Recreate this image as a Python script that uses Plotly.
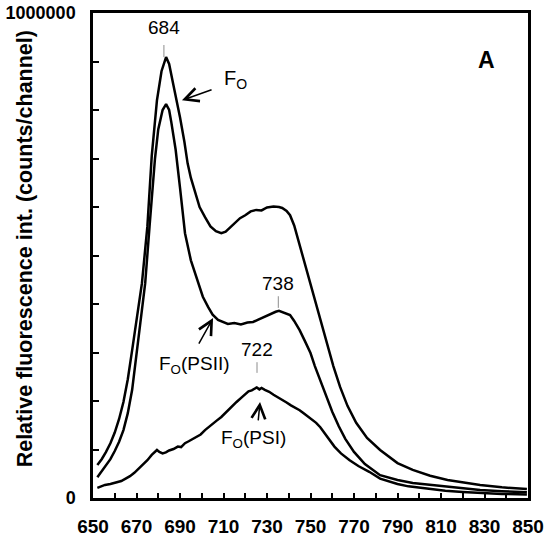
import plotly.graph_objects as go

# ---- data ----
fo_nm = [652, 654, 656, 658, 660, 662, 664, 666, 668, 670, 672.5, 675, 677, 679.4, 681.5, 683.6,
         685, 686.8, 688.5, 690, 692, 693.5, 695, 697, 699, 701.5, 704, 706.5, 709, 711, 713,
         715.5, 717.6, 720, 722.5, 725, 727.5, 730, 733, 735.5, 737, 739, 740.6, 742.5, 744, 746,
         748, 750.5, 753, 755.5, 757.6, 760.5, 763.6, 767, 771, 776, 782, 790, 797, 805, 813, 820,
         828, 838, 849.5]
fo_val = [68000, 80000, 95000, 113000, 135000, 163000, 198000, 245000, 305000, 370000, 443000,
          560000, 705000, 820000, 880000, 909000, 895000, 855000, 820000, 785000, 735000, 690000,
          660000, 629000, 600000, 579000, 560000, 550000, 546000, 549000, 557000, 568000, 577000,
          583000, 591000, 594000, 593000, 599000, 601000, 600000, 598000, 592000, 583000, 562000,
          538000, 508000, 476000, 435000, 394000, 355000, 320000, 272000, 229000, 190000, 155000,
          124000, 99000, 72000, 58000, 46000, 37000, 32000, 27000, 22000, 18500]

psii_nm = [652, 654, 656, 658, 660, 662, 664, 666, 668, 670, 672, 674, 676, 678.5, 680, 682, 683.6,
           685, 686, 688, 690, 692.3, 695, 698.3, 700.5, 702.9, 705, 707.5, 710, 712, 715, 718,
           721, 723.6, 726, 728, 730, 732, 734, 735.5, 737, 738.5, 740.6, 742.5, 745, 747.5, 750,
           752, 754.4, 757, 760, 763, 766, 770, 775, 782, 790, 797, 805, 815, 828, 838, 849.5]
psii_val = [43000, 55000, 66000, 80000, 97000, 116000, 140000, 175000, 223000, 300000, 370000,
            443000, 560000, 700000, 760000, 800000, 812000, 800000, 775000, 718000, 640000, 546000,
            490000, 443000, 415000, 394000, 378000, 367000, 362000, 359000, 361000, 358000, 362000,
            363000, 368000, 372000, 377000, 381000, 384000, 386000, 383000, 380000, 377000, 365000,
            346000, 323000, 299000, 272000, 243000, 210000, 178000, 148000, 122000, 95000, 70000,
            47000, 37000, 31000, 27000, 22000, 16500, 14000, 12000]

psi_nm = [652, 654, 655.5, 658, 660, 661.5, 663, 665, 667, 669, 671, 673, 675, 677, 678.5, 679.4,
          680.5, 682, 683.5, 685, 687, 689, 690.5, 692.3, 694, 696, 698, 699.5, 701.5, 703, 705,
          707, 709, 710.7, 712.5, 714, 716, 718.5, 720, 721.5, 723, 724, 725.3, 726.5, 727.5, 729,
          731, 733, 735, 737, 739, 741, 743, 745, 747, 749, 750.5, 752.6, 754.5, 756.5, 758.6, 761,
          764, 768, 772, 777, 782, 786, 790, 795, 800, 805, 812, 820, 828, 838, 849.5]
psi_val = [21000, 24000, 27000, 29000, 31000, 33000, 35000, 40000, 45000, 52000, 60000, 70000,
           78000, 89000, 96000, 99000, 95000, 92000, 94000, 98000, 101000, 106000, 105000, 113000,
           117000, 122000, 128000, 131000, 140000, 145000, 152000, 160000, 167000, 175000, 182000,
           189000, 198000, 208000, 215000, 220000, 222000, 225000, 228000, 224000, 227000, 223000,
           219000, 213000, 208000, 202000, 197000, 191000, 186000, 181000, 174000, 167000, 162000,
           155000, 146000, 134000, 120000, 106000, 92000, 78000, 66000, 54000, 40000, 34000, 29000,
           24000, 21000, 18500, 15000, 12500, 10500, 8500, 7000]

x_tick_vals = list(range(650, 851, 10))
x_tick_text = [str(v) if (v - 650) % 20 == 0 else "" for v in x_tick_vals]
y_tick_vals = list(range(0, 1000001, 100000))
y_tick_text = ["0"] + [""] * 9 + ["1000000"]

FONT = "Arial, Liberation Sans, sans-serif"

fig = go.Figure()
for xs, ys in [(fo_nm, fo_val), (psii_nm, psii_val), (psi_nm, psi_val)]:
    fig.add_trace(go.Scatter(x=xs, y=ys, mode="lines",
                             line=dict(color="black", width=2.5), showlegend=False,
                             hoverinfo="skip"))

# peak ticks (thin gray)
for xp, y0, y1 in [(682.6, 934000, 909000), (735.2, 416000, 392000), (725.4, 280000, 258000)]:
    fig.add_shape(type="line", x0=xp, x1=xp, y0=y0, y1=y1, xref="x", yref="y",
                  line=dict(color="#8c8c8c", width=1))

ann = []
for txt, xa, ya in [("684", 682.6, 971000), ("738", 735.2, 443000), ("722", 725.4, 307000)]:
    ann.append(dict(x=xa, y=ya, text=txt, showarrow=False, xref="x", yref="y",
                    font=dict(family=FONT, size=19, color="black")))
ann.append(dict(x=709.3, y=862000, text="F<sub>O</sub>", showarrow=False, xanchor="left",
                font=dict(family=FONT, size=20, color="black")))
ann.append(dict(x=696.5, y=274000, text="F<sub>O</sub>(PSII)", showarrow=False,
                font=dict(family=FONT, size=19, color="black")))
ann.append(dict(x=724.0, y=122000, text="F<sub>O</sub>(PSI)", showarrow=False,
                font=dict(family=FONT, size=19, color="black")))
ann.append(dict(x=831, y=903000, text="<b>A</b>", showarrow=False,
                font=dict(family=FONT, size=23, color="black")))
# arrows
for tx, ty, sx, sy in [(690.9, 820000, 705.2, 843000), (705.2, 371000, 698.3, 315000),
                       (726.8, 198000, 725.9, 157000)]:
    ann.append(dict(x=tx, y=ty, ax=sx, ay=sy, axref="x", ayref="y", xref="x", yref="y",
                    text="", showarrow=True, arrowhead=5, arrowsize=1.8, arrowwidth=1.5,
                    arrowcolor="black", standoff=0))
ann.append(dict(x=-0.156, y=0.513, xref="paper", yref="paper", showarrow=False, textangle=-90,
                xanchor="center", yanchor="middle",
                text="<b>Relative fluorescence int. (counts/channel)</b>",
                font=dict(family=FONT, size=21.5, color="black")))

fig.update_layout(
    width=545, height=539,
    margin=dict(l=93, r=17, t=13, b=41, autoexpand=False),
    paper_bgcolor="white", plot_bgcolor="white",
    annotations=ann,
    font=dict(family=FONT, color="black"),
)
fig.update_xaxes(range=[650, 850], tickvals=x_tick_vals, ticktext=x_tick_text,
                 ticks="inside", ticklen=5, tickwidth=2, tickcolor="black",
                 showline=True, linecolor="black", linewidth=2.5, mirror=True,
                 showgrid=False, zeroline=False, ticklabelstandoff=9, automargin=False,
                 ticklabeloverflow="allow",
                 tickfont=dict(family=FONT, size=19, color="black", weight="bold"))
fig.update_yaxes(range=[0, 1000000], tickvals=y_tick_vals, ticktext=y_tick_text,
                 ticks="inside", ticklen=6, tickwidth=2, tickcolor="black",
                 showline=True, linecolor="black", linewidth=2.5, mirror=True,
                 showgrid=False, zeroline=False, ticklabelstandoff=11, automargin=False,
                 ticklabeloverflow="allow",
                 tickfont=dict(family=FONT, size=18, color="black", weight="bold"))

fig.write_html("out.html", config={"displayModeBar": False},
               post_script="document.body.style.margin='0';document.body.style.overflow='hidden';")
